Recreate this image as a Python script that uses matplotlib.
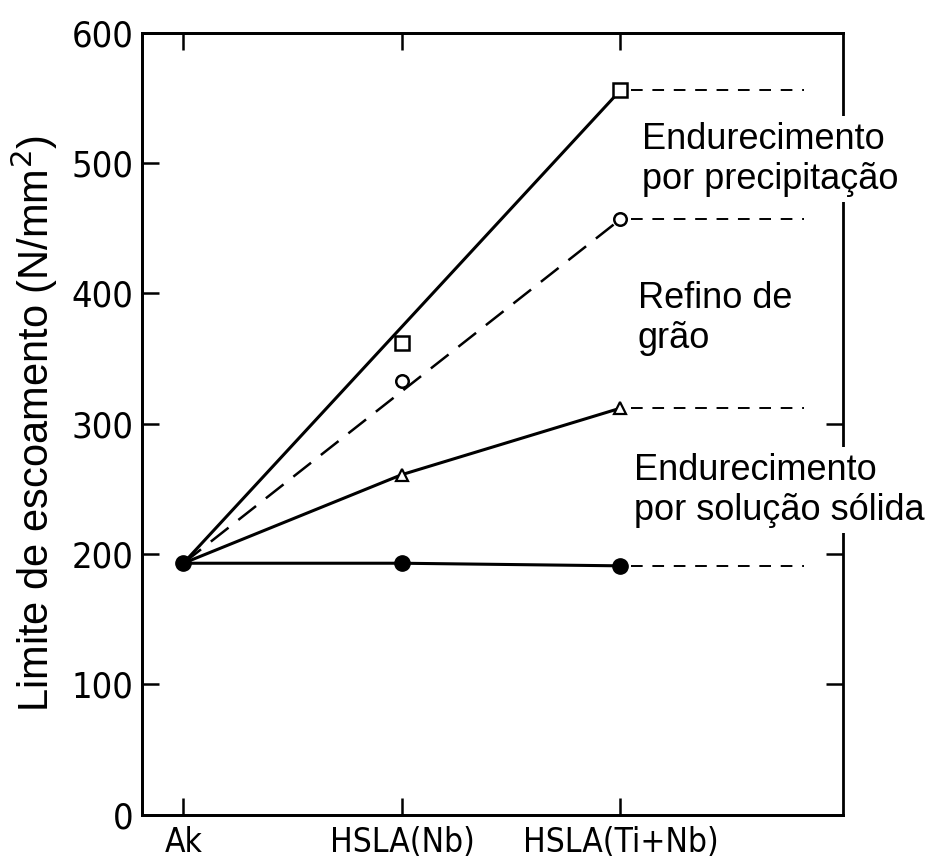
import matplotlib
matplotlib.use("Agg")
import numpy as np
from matplotlib import pyplot as plt

# categorias de aço e limites de escoamento (N/mm²)
steels = ["Ak", "HSLA(Nb)", "HSLA(Ti+Nb)"]
precip_total = [193, 362, 556]      # quadrados
grain_total = [193, 333, 457]       # círculos abertos
solution_total = [193, 261, 312]    # triângulos
base_level = [193, 193, 191]        # círculos cheios

y_ticks = [0, 100, 200, 300, 400, 500, 600]
right_ticks = [100, 200, 300]

narrow = ["Liberation Sans Narrow", "DejaVu Sans"]
sans = ["Liberation Sans", "DejaVu Sans"]

fig = plt.figure(figsize=(9.33, 8.64), dpi=100)
ax = fig.add_axes([0.152, 0.057, 0.752, 0.905])

x = np.arange(len(steels))
lw = 2.2

# linhas do Ak até HSLA(Ti+Nb)
ax.plot([x[0], x[2]], [precip_total[0], precip_total[2]], color="black", lw=lw)
ax.plot([x[0], x[2]], [grain_total[0], grain_total[2]], color="black", lw=1.8,
        dashes=(9, 5))
ax.plot(x, solution_total, color="black", lw=lw)
ax.plot(x, base_level, color="black", lw=lw)

# marcadores
ax.plot(x[1:], precip_total[1:], ls="none", marker="s", ms=10, mfc="white",
        mec="black", mew=1.8)
ax.plot(x[1:], grain_total[1:], ls="none", marker="o", ms=9, mfc="white",
        mec="black", mew=1.8)
ax.plot(x[1:], solution_total[1:], ls="none", marker="^", ms=8, mfc="white",
        mec="black", mew=1.6)
ax.plot(x, base_level, ls="none", marker="o", ms=11, color="black")

# linhas tracejadas de referência à direita
for series in (precip_total, grain_total, solution_total, base_level):
    ax.plot([x[2] + 0.05, 2.84], [series[2], series[2]], color="black", lw=1.4,
            dashes=(6, 5))

ax.set_xlim(-0.19, 3.02)
ax.set_ylim(0, 600)
ax.set_xticks(x)
ax.set_xticklabels(steels, family=narrow, fontstretch="condensed", fontsize=24)
ax.set_yticks(y_ticks)
ax.set_yticklabels([str(v) for v in y_ticks], family=narrow,
                   fontstretch="condensed", fontsize=26)
ax.tick_params(direction="in", length=12, width=1.8, top=True, right=False,
               pad=6)
ax.tick_params(axis="x", pad=8)
for sp in ax.spines.values():
    sp.set_linewidth(2)
ax.spines["right"].set_visible(False)

ax.set_ylabel("Limite de escoamento (N/mm$^2$)", family=sans, fontsize=30,
              labelpad=8)

# eixo direito só com marcas em 100, 200 e 300
ax2 = ax.twinx()
ax2.set_ylim(ax.get_ylim())
ax2.set_yticks(right_ticks)
ax2.set_yticklabels([])
ax2.tick_params(direction="in", length=12, width=1.8)
for sp in ax2.spines.values():
    sp.set_linewidth(2)

box = dict(facecolor="white", edgecolor="none", boxstyle="square,pad=0.15")
ax2.text(2.1, 503, "Endurecimento\npor precipitação", family=sans,
         fontsize=26, va="center", ha="left", linespacing=1.2, bbox=box)
ax2.text(2.08, 381, "Refino de\ngrão", family=sans,
         fontsize=26, va="center", ha="left", linespacing=1.2)
ax2.text(2.06, 249, "Endurecimento\npor solução sólida", family=sans,
         fontsize=26, va="center", ha="left", linespacing=1.2, bbox=box)

plt.savefig("out.png", dpi=100)
plt.close()
